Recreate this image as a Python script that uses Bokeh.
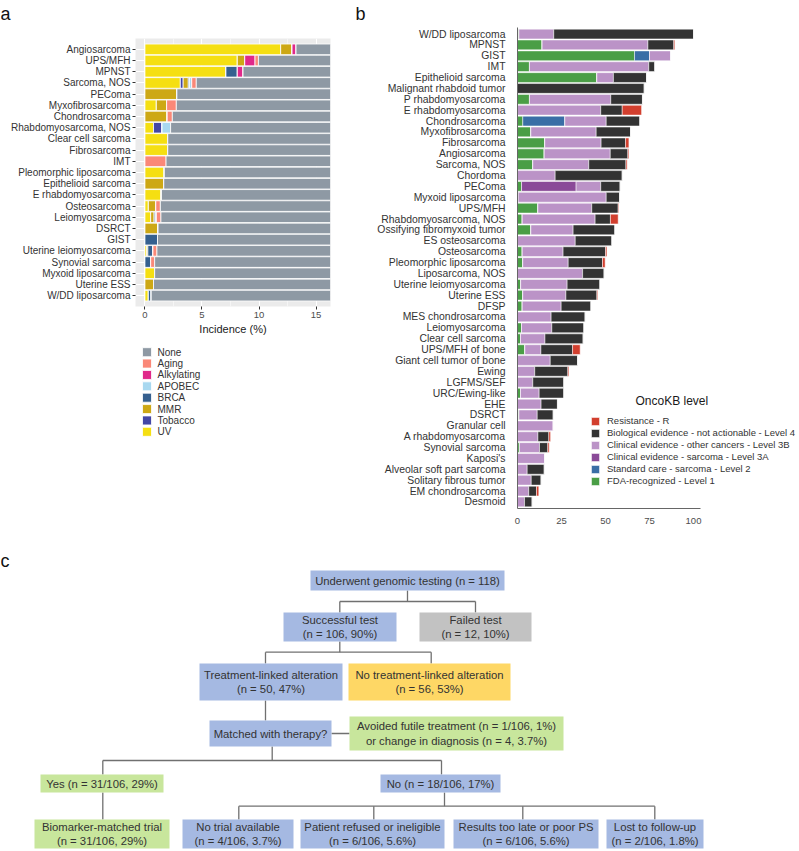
from bokeh.plotting import figure
from bokeh.layouts import column, row
from bokeh.models import (ColumnDataSource, FactorRange, Range1d, FixedTicker,
                          Legend, LegendItem, Label)
from bokeh.embed import file_html
from bokeh.resources import INLINE
from bokeh.core.properties import value

FONT = "Liberation Sans"
TXT = "#333333"
TICK_TXT = "#4d4d4d"

# ---------------- panel a : mutational signatures (incidence %) ----------------
a_types = ["Angiosarcoma", "UPS/MFH", "MPNST", "Sarcoma, NOS", "PEComa",
           "Myxofibrosarcoma", "Chondrosarcoma", "Rhabdomyosarcoma, NOS",
           "Clear cell sarcoma", "Fibrosarcoma", "IMT", "Pleomorphic liposarcoma",
           "Epithelioid sarcoma", "E rhabdomyosarcoma", "Osteosarcoma",
           "Leiomyosarcoma", "DSRCT", "GIST", "Uterine leiomyosarcoma",
           "Synovial sarcoma", "Myxoid liposarcoma", "Uterine ESS", "W/DD liposarcoma"]
a_uv         = [11.9, 8.1, 7.1, 3.1, 0, 1.0, 0, 0.75, 2.0, 2.0, 0, 1.7, 0, 1.4, 0.3, 0.5, 0, 0, 0.15, 0, 0.85, 0, 0.3]
a_tobacco    = [0, 0, 0, 0.25, 0, 0, 0, 0.75, 0, 0, 0, 0, 0, 0, 0, 0, 0, 0, 0, 0, 0, 0, 0]
a_mmr        = [1.0, 0.65, 0, 0.45, 2.8, 0.9, 1.95, 0, 0, 0, 0, 0, 1.65, 0.05, 0.65, 0.3, 1.15, 0, 0.1, 0, 0, 0.75, 0]
a_brca       = [0, 0, 1.0, 0.1, 0, 0, 0, 0, 0, 0, 0, 0, 0, 0, 0, 0.1, 0, 1.1, 0.45, 0.5, 0, 0, 0.25]
a_apobec     = [0, 0, 0, 0.2, 0, 0, 0, 0.75, 0, 0, 0, 0, 0, 0, 0, 0.1, 0, 0, 0, 0, 0, 0, 0]
a_alkylating = [0.35, 0.9, 0.5, 0, 0, 0, 0, 0, 0, 0, 0, 0, 0, 0, 0, 0, 0, 0, 0, 0, 0, 0, 0]
a_aging      = [0, 0.3, 0, 0.4, 0, 0.85, 0.45, 0, 0, 0, 1.85, 0, 0, 0, 0.4, 0.4, 0, 0, 0.35, 0.35, 0, 0, 0]
a_ticks = [0, 5, 10, 15]
a_legend_order = ["None", "Aging", "Alkylating", "APOBEC", "BRCA", "MMR", "Tobacco", "UV"]

# ---------------- panel b : OncoKB levels (% of patients) ----------------
b_types = ["W/DD liposarcoma", "MPNST", "GIST", "IMT", "Epithelioid sarcoma",
           "Malignant rhabdoid tumor", "P rhabdomyosarcoma", "E rhabdomyosarcoma",
           "Chondrosarcoma", "Myxofibrosarcoma", "Fibrosarcoma", "Angiosarcoma",
           "Sarcoma, NOS", "Chordoma", "PEComa", "Myxoid liposarcoma", "UPS/MFH",
           "Rhabdomyosarcoma, NOS", "Ossifying fibromyxoid tumor", "ES osteosarcoma",
           "Osteosarcoma", "Pleomorphic liposarcoma", "Liposarcoma, NOS",
           "Uterine leiomyosarcoma", "Uterine ESS", "DFSP", "MES chondrosarcoma",
           "Leiomyosarcoma", "Clear cell sarcoma", "UPS/MFH of bone",
           "Giant cell tumor of bone", "Ewing", "LGFMS/SEF", "URC/Ewing-like", "EHE",
           "DSRCT", "Granular cell", "A rhabdomyosarcoma", "Synovial sarcoma",
           "Kaposi's", "Alveolar soft part sarcoma", "Solitary fibrous tumor",
           "EM chondrosarcoma", "Desmoid"]
b_level1  = [0.8, 14.0, 66.5, 6.8, 45.1, 0, 6.8, 0, 3.0, 7.6,
             15.5, 15.2, 8.7, 0, 2.3, 0.4, 11.6, 2.7, 7.6, 0,
             2.7, 3.0, 0, 1.8, 3.0, 2.7, 0, 2.3, 1.7, 4.2,
             0, 0, 0, 1.7, 0, 0.8, 0, 0, 1.1, 0,
             0, 0, 0, 0]
b_level2  = [0, 0, 8.5, 0, 0, 0, 0, 0, 23.9, 0,
             0, 0, 0, 0, 0, 0, 0, 0, 0, 0,
             0, 0, 0, 0, 0, 0, 0, 0, 0, 0,
             0, 0, 0, 0, 0, 0, 0, 0, 0, 0,
             0, 0, 0, 0]
b_level3a = [0, 0, 0, 0, 0, 0, 0, 0, 0, 0,
             0, 0, 0, 0, 31.0, 0, 0, 0, 0, 0,
             0, 0, 0, 0, 0, 0, 0, 0, 0, 0,
             0, 0, 0, 0, 0, 0, 0, 0, 0, 0,
             0, 0, 0, 0]
b_level3b = [19.8, 60.1, 12.1, 67.8, 9.4, 0, 46.2, 47.3, 23.5, 37.1,
             32.0, 37.5, 31.8, 21.4, 14.0, 50.0, 30.6, 41.4, 24.0, 32.8,
             23.2, 25.8, 37.0, 26.4, 24.5, 22.1, 19.1, 17.2, 13.9, 9.1,
             18.6, 9.8, 8.7, 10.6, 13.4, 10.4, 20.3, 11.6, 11.4, 15.5,
             5.5, 7.8, 6.4, 4.0]
b_level4  = [79.4, 14.7, 0, 3.4, 18.8, 72.0, 18.0, 12.2, 19.1, 19.5,
             13.9, 10.0, 21.1, 38.1, 11.0, 7.6, 15.0, 8.7, 23.7, 20.8,
             24.1, 19.5, 12.2, 18.6, 17.6, 16.9, 19.3, 18.2, 21.7, 18.0,
             15.5, 18.8, 17.6, 14.0, 9.3, 9.1, 0, 6.2, 4.7, 0,
             9.7, 5.6, 4.4, 4.3]
b_levelR  = [0, 0.6, 0, 0, 0, 0, 0, 11.0, 0, 0,
             1.9, 0.6, 0.7, 0, 0, 0, 0.4, 4.4, 0, 0,
             0.8, 1.5, 0, 0, 0.5, 0, 0, 0, 0, 4.3,
             0, 0.6, 0, 0, 0, 0, 0, 1.0, 0.8, 0,
             0, 0, 1.3, 0]
b_ticks = [0, 25, 50, 75, 100]
b_level_names = ["FDA-recognized - Level 1", "Standard care - sarcoma - Level 2",
                 "Clinical evidence - sarcoma - Level 3A",
                 "Clinical evidence - other cancers - Level 3B",
                 "Biological evidence - not actionable - Level 4", "Resistance - R"]

# ---------------- panel c : flowchart ----------------
flow_text = [
    ["Underwent genomic testing (n = 118)"],
    ["Successful test", "(n = 106, 90%)"],
    ["Failed test", "(n = 12, 10%)"],
    ["Treatment-linked alteration", "(n = 50, 47%)"],
    ["No treatment-linked alteration", "(n = 56, 53%)"],
    ["Matched with therapy?"],
    ["Avoided futile treatment (n = 1/106, 1%)", "or change in diagnosis (n = 4, 3.7%)"],
    ["Yes (n = 31/106, 29%)"],
    ["No (n = 18/106, 17%)"],
    ["Biomarker-matched trial", "(n = 31/106, 29%)"],
    ["No trial available", "(n = 4/106, 3.7%)"],
    ["Patient refused or ineligible", "(n = 6/106, 5.6%)"],
    ["Results too late or poor PS", "(n = 6/106, 5.6%)"],
    ["Lost to follow-up", "(n = 2/106, 1.8%)"],
]
flow_kind = ["blue", "blue", "gray", "blue", "yellow", "blue", "green",
             "green", "blue", "green", "blue", "blue", "blue", "blue"]
panel_letters = ["a", "b", "c"]

# ---------------- styles / layout ----------------
a_colors = {"UV": "#f5df12", "Tobacco": "#4347a6", "MMR": "#cda815", "BRCA": "#35608f",
            "APOBEC": "#a8d8f0", "Alkylating": "#e0288a", "Aging": "#fa8878", "None": "#8e99a4"}
b_colors = ["#4a9e46", "#3a6ea6", "#8a4a98", "#bb93c7", "#333333", "#d23f2e"]
kind_colors = {"blue": "#a5b9e2", "gray": "#c2c2c2", "yellow": "#fed765", "green": "#c8e69c"}

box_layout = [  # left, right, top, bottom (pixel frame of panel c)
    (310, 504, 570, 590), (283, 396, 612, 641), (419, 531, 612, 641),
    (199, 342, 663, 700), (348, 510, 663, 700), (209, 331, 720, 746),
    (349, 563, 716, 750), (40, 163, 774, 792), (380, 500, 774, 792),
    (34, 169, 819, 848), (182, 293, 819, 848), (300, 444, 819, 848),
    (453, 598, 819, 848), (606, 703, 819, 848)]
connectors = [
    ([407, 407], [590, 601]), ([339.3, 475], [601, 601]),
    ([339.3, 339.3], [601, 612]), ([475, 475], [601, 612]),
    ([339.3, 339.3], [641, 651.7]), ([265, 430.7], [651.7, 651.7]),
    ([265, 265], [651.7, 663]), ([430.7, 430.7], [651.7, 663]),
    ([265, 265], [700, 720]), ([331, 349], [733, 733]),
    ([271.7, 271.7], [746, 760]), ([102.3, 441], [760, 760]),
    ([102.3, 102.3], [760, 774]), ([441, 441], [760, 774]),
    ([102.3, 102.3], [792, 819]), ([444, 444], [792, 805.7]),
    ([238.3, 654.3], [805.7, 805.7]), ([238.3, 238.3], [805.7, 819]),
    ([373.3, 373.3], [805.7, 819]), ([522.3, 522.3], [805.7, 819]),
    ([654.3, 654.3], [805.7, 819])]
letter_pos = [(0, 13.5), (355, 13.5), (0, 560)]

# ================= header with panel letters a / b =================
ph = figure(width=799, height=24, output_backend="svg", toolbar_location=None,
            x_range=Range1d(0, 799), y_range=Range1d(24, 0),
            x_axis_type=None, y_axis_type=None, min_border=0,
            min_border_left=0, min_border_right=0, min_border_top=0, min_border_bottom=0)
ph.grid.grid_line_color = None
ph.outline_line_color = None
ph.text(x=[p[0] for p in letter_pos[:2]], y=[p[1] for p in letter_pos[:2]],
        text=panel_letters[:2], text_align="left", text_baseline="alphabetic",
        text_font=value(FONT), text_font_size="18px", text_color="#111111")

# ================= panel a figure =================
a_stack = ["UV", "Tobacco", "MMR", "BRCA", "APOBEC", "Alkylating", "Aging", "None"]
a_cols = [a_uv, a_tobacco, a_mmr, a_brca, a_apobec, a_alkylating, a_aging]
a_none = [100 - sum(v) for v in zip(*a_cols)]
src_a = ColumnDataSource(dict(type=a_types, UV=a_uv, Tobacco=a_tobacco, MMR=a_mmr,
                              BRCA=a_brca, APOBEC=a_apobec, Alkylating=a_alkylating,
                              Aging=a_aging, **{"None": a_none}))

pa = figure(width=348, height=316, output_backend="svg", toolbar_location=None,
            y_range=FactorRange(factors=a_types[::-1], range_padding=0.47,
                                range_padding_units="absolute"),
            x_range=Range1d(-0.83, 16.27),
            min_border_left=135, min_border_right=18, min_border_top=14,
            min_border_bottom=34)
rend_a = pa.hbar_stack(a_stack, y="type", height=0.95, source=src_a,
                       fill_color=[a_colors[s] for s in a_stack],
                       line_color="white", line_width=0.8)
pa.background_fill_color = "#ebebeb"
pa.outline_line_color = None
pa.xaxis.ticker = FixedTicker(ticks=a_ticks, minor_ticks=[2.5, 7.5, 12.5])
pa.xgrid.ticker = pa.xaxis.ticker
pa.xgrid.grid_line_color = "white"
pa.xgrid.minor_grid_line_color = "white"
pa.xgrid.minor_grid_line_width = 0.5
pa.ygrid.grid_line_color = "white"
for ax in (pa.xaxis, pa.yaxis):
    ax.axis_line_color = None
    ax.major_tick_line_color = "#333333"
    ax.major_tick_out = 3
    ax.major_tick_in = 0
    ax.minor_tick_line_color = None
    ax.major_label_text_font = FONT
pa.xaxis.major_label_text_font_size = "9.5px"
pa.xaxis.major_label_text_color = TICK_TXT
pa.xaxis.major_label_standoff = 1
pa.xaxis.axis_label = "Incidence (%)"
pa.xaxis.axis_label_text_font = FONT
pa.xaxis.axis_label_text_font_size = "11px"
pa.xaxis.axis_label_text_font_style = "normal"
pa.xaxis.axis_label_text_color = "#1a1a1a"
pa.xaxis.axis_label_standoff = 2
pa.yaxis.major_label_text_font_size = "10px"
pa.yaxis.major_label_text_color = TXT
pa.yaxis.major_label_standoff = 2

# legend of panel a: its own small canvas, keys placed on a categorical scale
pal = figure(width=348, height=200, output_backend="svg", toolbar_location=None,
             x_range=Range1d(0, 195), y_range=FactorRange(factors=a_legend_order[::-1]),
             x_axis_type=None, y_axis_type=None,
             min_border_left=135, min_border_right=18, min_border_top=6,
             min_border_bottom=103)
pal.grid.grid_line_color = None
pal.outline_line_color = None
src_leg_a = ColumnDataSource(dict(sig=a_legend_order,
                                  color=[a_colors[s] for s in a_legend_order]))
pal.rect(x=11.5, y="sig", width=9, height=9, width_units="screen", height_units="screen",
         fill_color="color", line_color="white", line_width=0.8, source=src_leg_a)
pal.text(x=22, y="sig", text="sig", source=src_leg_a, text_align="left",
         text_baseline="middle", text_font=value(FONT), text_font_size="10px",
         text_color=TXT)

# ================= panel b figure =================
b_stack = ["L1", "L2", "L3A", "L3B", "L4", "R"]
src_b = ColumnDataSource(dict(type=b_types, L1=b_level1, L2=b_level2, L3A=b_level3a,
                              L3B=b_level3b, L4=b_level4, R=b_levelR))
pb = figure(width=451, height=516, output_backend="svg", toolbar_location=None,
            y_range=FactorRange(factors=b_types[::-1], range_padding=0.1,
                                range_padding_units="absolute"),
            x_range=Range1d(0, 282 / 1.76),
            min_border_left=169, min_border_right=0, min_border_top=3,
            min_border_bottom=32)
rend_b = pb.hbar_stack(b_stack, y="type", height=0.9, source=src_b,
                       fill_color=b_colors, line_color="white", line_width=0.5)
pb.grid.grid_line_color = None
pb.outline_line_color = None
pb.xaxis.ticker = FixedTicker(ticks=b_ticks)
pb.xaxis.bounds = (0, 104)
for ax in (pb.xaxis, pb.yaxis):
    ax.axis_line_color = "#666666"
    ax.axis_line_width = 1
    ax.major_tick_line_color = None
    ax.minor_tick_line_color = None
    ax.major_label_text_font = FONT
pb.xaxis.major_label_text_font_size = "9.5px"
pb.xaxis.major_label_text_color = TICK_TXT
pb.xaxis.major_label_standoff = 3
pb.yaxis.major_label_text_font_size = "10.4px"
pb.yaxis.major_label_text_color = TXT
pb.yaxis.major_label_standoff = 6

leg_items_b = [LegendItem(label=b_level_names[i], renderers=[rend_b[i]]) for i in range(5, -1, -1)]
leg_b = Legend(items=leg_items_b, location=(73, 22), orientation="vertical",
               glyph_width=10, glyph_height=10, label_standoff=7, spacing=1,
               padding=0, margin=0, label_height=10,
               label_text_font=FONT, label_text_font_size="9.5px", label_text_color=TXT,
               border_line_color=None, background_fill_alpha=0)
pb.add_layout(leg_b)
pb.add_layout(Label(x=118, y=108, x_units="screen", y_units="screen", text="OncoKB level",
                    text_font=FONT, text_font_size="12px", text_color="#1a1a1a",
                    text_baseline="alphabetic"))

# ================= panel c figure =================
pc = figure(width=799, height=310, output_backend="svg", toolbar_location=None,
            x_range=Range1d(0, 799), y_range=Range1d(850, 540),
            x_axis_type=None, y_axis_type=None, min_border=0,
            min_border_left=0, min_border_right=0, min_border_top=0, min_border_bottom=0)
pc.grid.grid_line_color = None
pc.outline_line_color = None

pc.multi_line(xs=[c[0] for c in connectors], ys=[c[1] for c in connectors],
              line_color="#707070", line_width=1.3)
pc.quad(left=[b[0] for b in box_layout], right=[b[1] for b in box_layout],
        top=[b[2] for b in box_layout], bottom=[b[3] for b in box_layout],
        fill_color=[kind_colors[k] for k in flow_kind], line_color=None)

tx, ty, tt = [], [], []
LINE_GAP = 7.1
for lines, (l, r, t, b) in zip(flow_text, box_layout):
    cx, cy = (l + r) / 2, (t + b) / 2
    n = len(lines)
    for i, s in enumerate(lines):
        tx.append(cx)
        ty.append(cy + (i - (n - 1) / 2) * 2 * LINE_GAP)
        tt.append(s)
pc.text(x=tx, y=ty, text=tt, text_align="center", text_baseline="middle",
        text_font=value(FONT), text_font_size="11.3px", text_color=TXT)
pc.text(x=[letter_pos[2][0]], y=[letter_pos[2][1]], text=[panel_letters[2]],
        text_align="left", text_baseline="alphabetic",
        text_font=value(FONT), text_font_size="18px", text_color="#111111")

layout = column(ph, row(column(pa, pal), pb), pc)
open("out.html", "w").write(file_html(layout, INLINE))
